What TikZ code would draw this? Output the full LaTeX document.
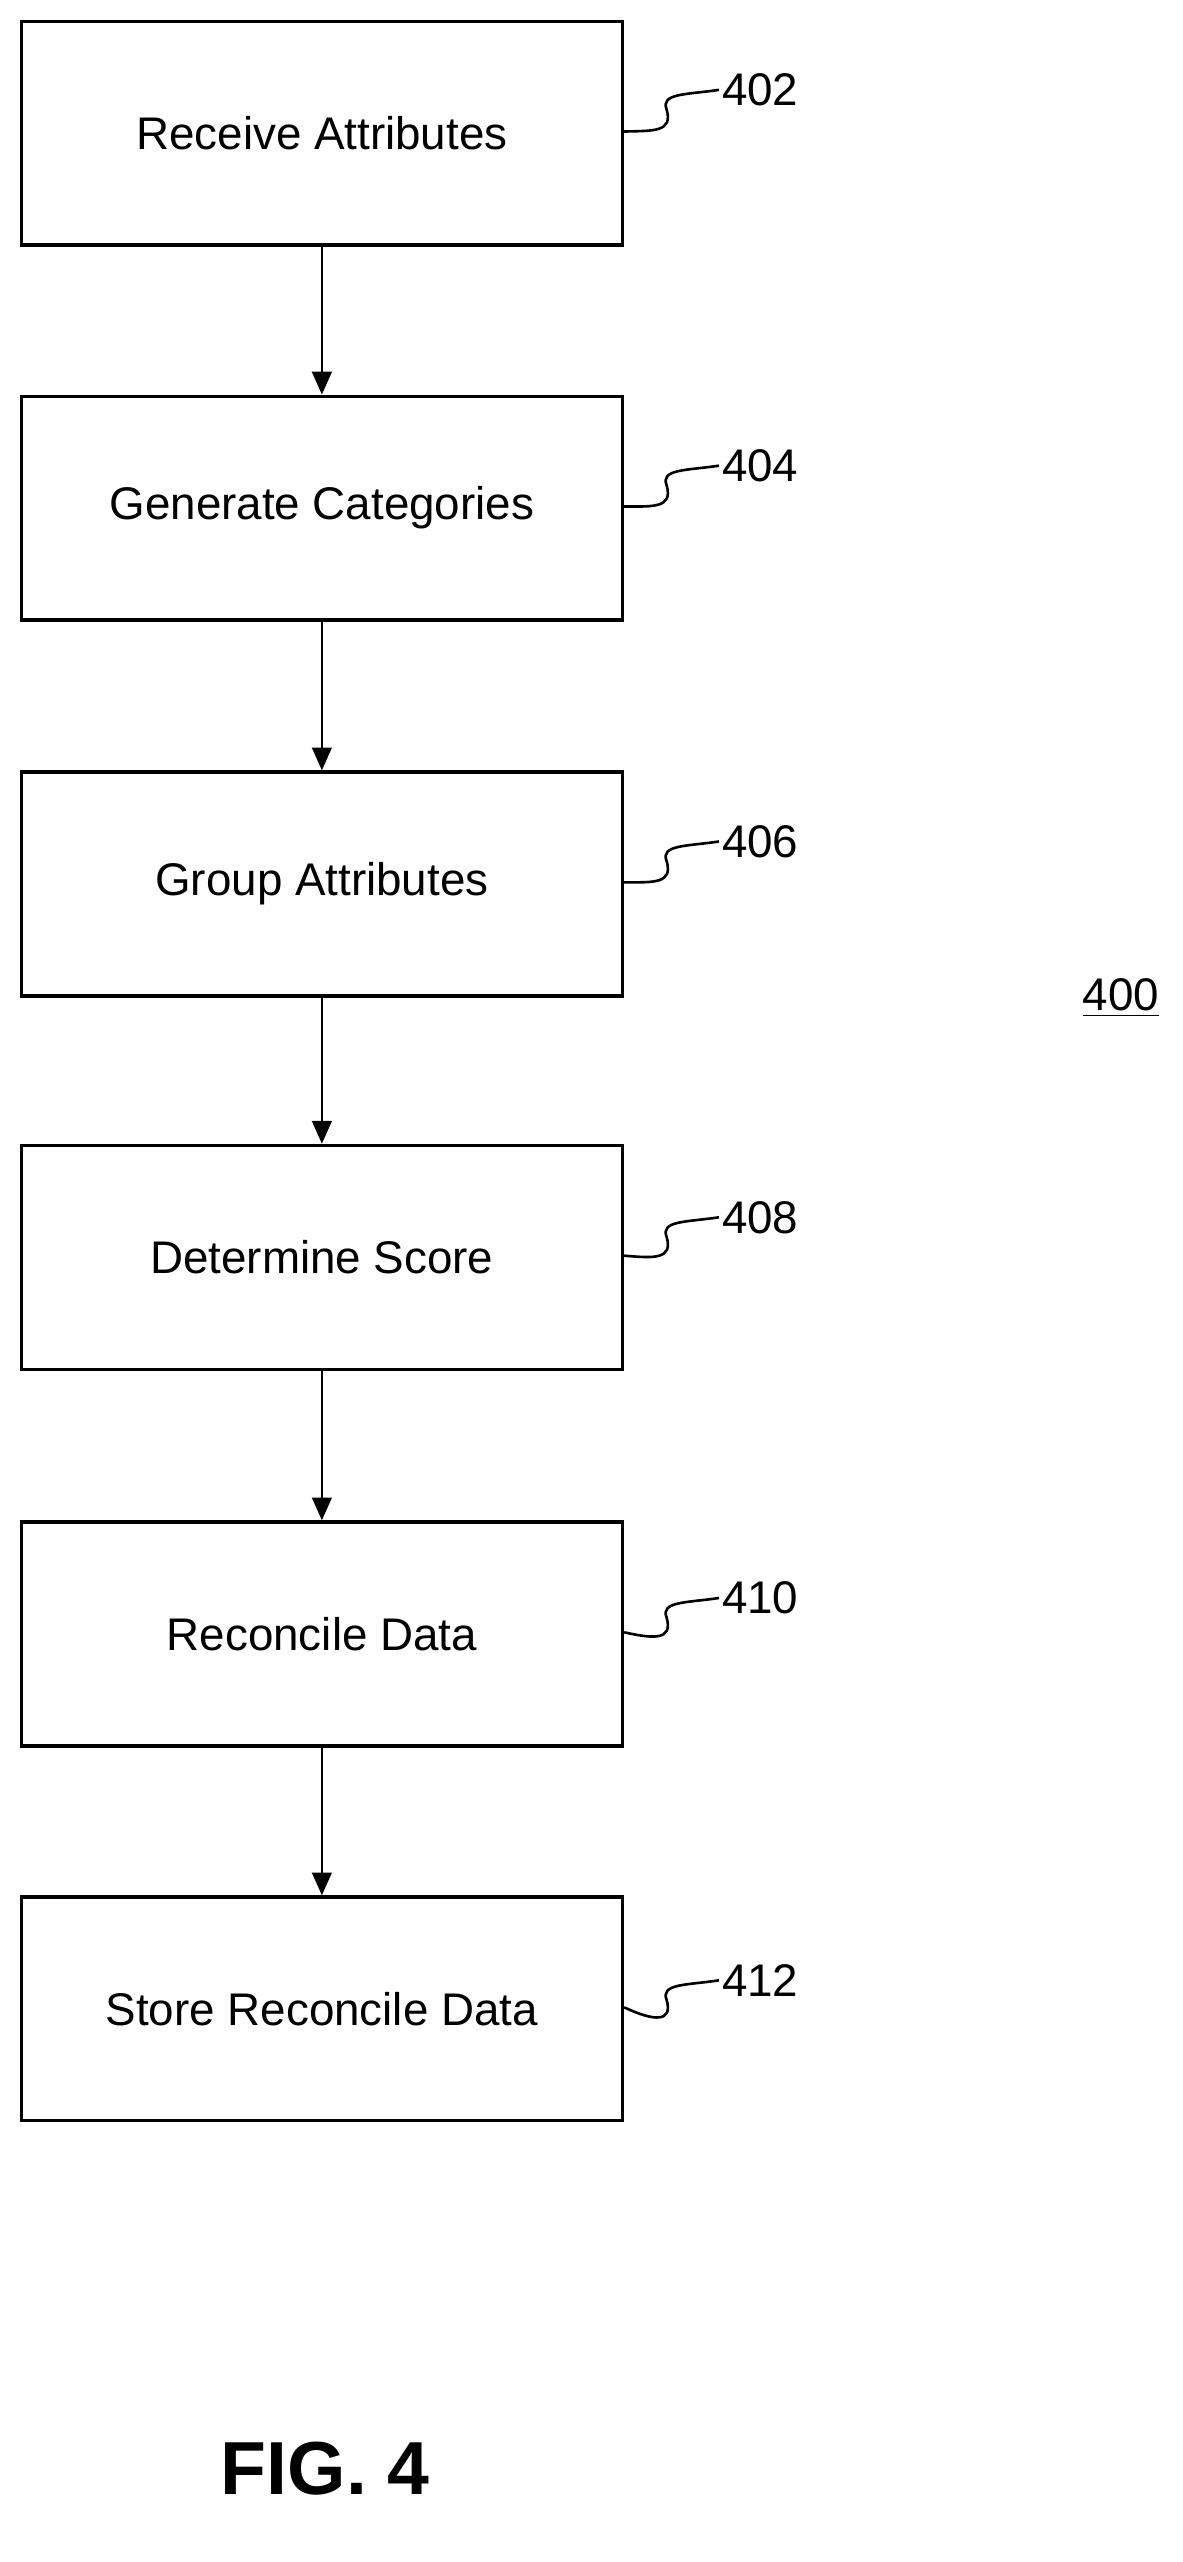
\documentclass[tikz,border=0pt]{standalone}
\usepackage{fontspec}
\setmainfont{Liberation Sans}
\usetikzlibrary{arrows.meta}
\tikzset{
  stage/.style={draw, line width=1pt, minimum width=184pt, minimum height=68.5pt, inner sep=0pt, font=\fontsize{14}{16}\selectfont},
  flow/.style={line width=0.8pt, -{Triangle[length=7pt, width=6pt]}},
  ref/.style={anchor=west, inner sep=0.75pt, font=\fontsize{14}{16}\selectfont},
}
\begin{document}
\begin{tikzpicture}[x=0.5pt,y=0.5pt,yscale=-1,xscale=1]
\useasboundingbox (0,0) rectangle (724,1568);

% Boxes
\node [stage] (b402) at (197,81.5) {Receive Attributes};
\node [stage] (b404) at (197,311) {Generate Categories};
\node [stage] (b406) at (197,541) {Group Attributes};
\node [stage] (b408) at (197,769.5) {Determine Score};
\node [stage] (b410) at (197,1000) {Reconcile Data};
\node [stage] (b412) at (197,1229.5) {Store Reconcile Data};

% Arrows
\draw [flow] (b402) -- (b404);
\draw [flow] (b404) -- (b406);
\draw [flow] (b406) -- (b408);
\draw [flow] (b408) -- (b410);
\draw [flow] (b410) -- (b412);

% Reference numbers
\foreach \n/\y in {402/55, 404/285, 406/515, 408/745, 410/978, 412/1212} {
  \node [ref] (l\n) at (440,\y) {\n};
  \draw [line width=0.8pt] (b\n.east) ++(0,-1) .. controls (400,\y+25) and (412,\y+26) .. (408,\y+12) .. controls (404,\y+2) and (420,\y+3) .. (l\n.west);
}

% Figure label
\node [ref, anchor=center] (n400) at (686,611) {\underline{400}};
\node [font=\bfseries\fontsize{23}{26}\selectfont] (fig) at (199,1511) {FIG. 4};
\end{tikzpicture}
\end{document}
